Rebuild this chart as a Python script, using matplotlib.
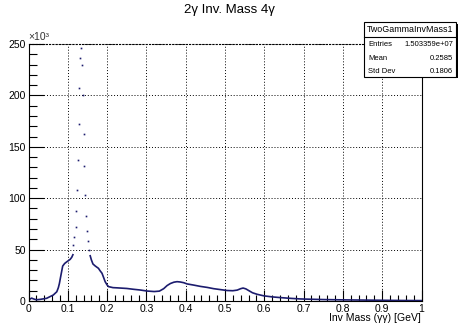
import matplotlib
matplotlib.use("Agg")
import matplotlib.pyplot as plt
from matplotlib.patches import Rectangle

plt.rcParams['font.family'] = ['Liberation Sans', 'DejaVu Sans']

# values in units of 10^3 entries
left_x = [0.000, 0.004, 0.008, 0.013, 0.020, 0.030, 0.046, 0.063, 0.072,
          0.076, 0.0786, 0.082, 0.085, 0.087, 0.092, 0.097, 0.106, 0.110,
          0.113]
left_y = [0.0, 2.0, 2.8, 2.0, 1.2, 1.6, 2.6, 5.8, 9.0,
          13.0, 17.0, 24.0, 30.0, 34.0, 36.5, 38.0, 40.5, 42.5,
          45.0]

peak_x = [0.1143, 0.1168, 0.1204, 0.1220, 0.1237, 0.1255, 0.1280, 0.1296,
          0.1314, 0.1335, 0.1360, 0.1380, 0.1408, 0.1423, 0.1434, 0.1467,
          0.1485, 0.1510, 0.1536]
peak_y = [54.5, 62.0, 71.7, 87.5, 108.0, 137.0, 172.0, 207.0,
          236.0, 246.0, 230.0, 200.0, 162.0, 131.0, 103.0, 83.0,
          68.0, 58.0, 50.0]

right_x = [0.157, 0.160, 0.164, 0.170, 0.178, 0.182, 0.187, 0.191, 0.195,
           0.200, 0.2036, 0.215, 0.225, 0.250, 0.267, 0.284, 0.3015, 0.320,
           0.333, 0.344, 0.3526, 0.361, 0.370, 0.378, 0.386, 0.395, 0.4036,
           0.420, 0.4375, 0.455, 0.471, 0.490, 0.5056, 0.520, 0.531, 0.540,
           0.546, 0.553, 0.561, 0.570, 0.582, 0.599, 0.620, 0.641, 0.670,
           0.692, 0.720, 0.750, 0.800, 0.850, 0.900, 0.950, 1.000]
right_y = [44.0, 40.0, 36.0, 34.0, 31.8, 29.5, 27.0, 23.0, 18.8,
           15.6, 14.0, 13.0, 12.8, 12.2, 11.4, 10.7, 9.7, 9.2,
           9.6, 12.0, 15.0, 17.0, 18.3, 18.8, 18.5, 17.8, 16.6,
           15.5, 14.2, 13.2, 12.0, 11.0, 10.2, 10.0, 10.6, 12.0,
           12.6, 11.8, 10.0, 8.0, 6.5, 5.0, 4.0, 3.3, 2.5,
           2.0, 1.7, 1.4, 1.1, 0.9, 0.7, 0.5, 0.4]

x_ticks = [0, 0.1, 0.2, 0.3, 0.4, 0.5, 0.6, 0.7, 0.8, 0.9, 1.0]
x_labels = ["0", "0.1", "0.2", "0.3", "0.4", "0.5", "0.6", "0.7", "0.8", "0.9", "1"]
y_ticks = [0, 50, 100, 150, 200, 250]
y_labels = ["0", "50", "100", "150", "200", "250"]

stats_name = "TwoGammaInvMass1"
stats_rows = [("Entries", "1.503359e+07"), ("Mean", "0.2585"), ("Std Dev", "0.1806")]

W, H = 458, 327
fig = plt.figure(figsize=(W / 100, H / 100), dpi=100)
ax = fig.add_axes([28.5 / W, 1 - 301 / H, (421.5 - 28.5) / W, (301 - 44) / H])

col = "#1c1c6e"
ax.plot(left_x, left_y, "-", color=col, lw=1.2)
ax.plot(right_x, right_y, "-", color=col, lw=1.2)
ax.plot(peak_x, peak_y, "s", color=col, ms=1.2, mew=0)

ax.set_xlim(0, 1)
ax.set_ylim(0, 250)
ax.set_xticks(x_ticks)
ax.set_xticklabels(x_labels)
ax.set_xticks([i * 0.02 for i in range(51)], minor=True)
ax.set_yticks(y_ticks)
ax.set_yticklabels(y_labels)
ax.set_yticks(list(range(0, 251, 10)), minor=True)
ax.tick_params(axis="x", which="major", direction="in", length=8, width=0.8,
               labelsize=7.5, pad=2)
ax.tick_params(axis="x", which="minor", direction="in", length=4, width=0.8)
ax.tick_params(axis="y", which="major", direction="in", length=11, width=0.8,
               labelsize=7.5, pad=2)
ax.tick_params(axis="y", which="minor", direction="in", length=5.5, width=0.8)
ax.grid(True, which="major", color="black", linestyle=(0, (1, 2)), lw=0.7)
for s in ax.spines.values():
    s.set_linewidth(0.8)
ax.spines["top"].set_linestyle((0, (1, 2)))

fig.text(229 / W, 1 - 10 / H, "2\u03b3 Inv. Mass 4\u03b3", ha="center", va="center",
         fontsize=9.5)
fig.text(28 / W, 1 - 37 / H, "\u00d710\u00b3", ha="left", va="center", fontsize=7.5,
         color="#333333")
fig.text(421 / W, 1 - 318 / H, "Inv Mass (\u03b3\u03b3) [GeV]", ha="right",
         va="center", fontsize=7.5)

# stats box
bx0, bx1, by0, by1 = 364, 456, 22, 76.5
fig.patches.append(Rectangle((bx0 / W + 1.5 / W, 1 - (by1 + 1.5) / H),
                             (bx1 - bx0) / W, (by1 - by0) / H,
                             transform=fig.transFigure, facecolor="black",
                             edgecolor="none", zorder=5))
fig.patches.append(Rectangle((bx0 / W, 1 - by1 / H), (bx1 - bx0) / W,
                             (by1 - by0) / H, transform=fig.transFigure,
                             facecolor="white", edgecolor="black", lw=0.8,
                             zorder=6))
fig.lines.append(plt.Line2D([bx0 / W, bx1 / W], [1 - 36.7 / H, 1 - 36.7 / H],
                            transform=fig.transFigure, color="black", lw=0.8,
                            zorder=7))
fig.text((bx0 + bx1) / 2 / W, 1 - 29.5 / H, stats_name, ha="center", va="center",
         fontsize=6.4, zorder=8)
for i, (k, v) in enumerate(stats_rows):
    yy = 1 - (45 + i * 13.3) / H
    fig.text((bx0 + 4) / W, yy, k, ha="left", va="center", fontsize=5.5, zorder=8)
    fig.text((bx1 - 3) / W, yy, v, ha="right", va="center", fontsize=5.5, zorder=8)

fig.savefig("out.png", dpi=100)
